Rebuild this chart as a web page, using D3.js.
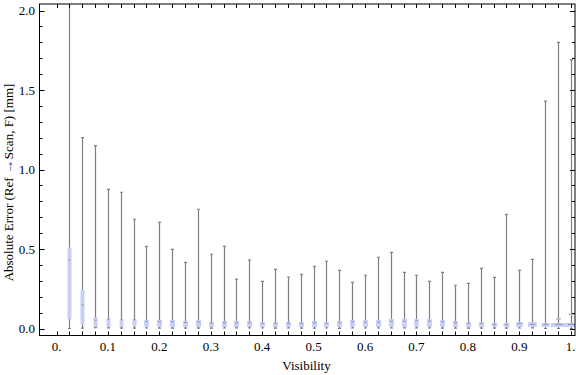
<!DOCTYPE html>
<html>
<head>
<meta charset="utf-8">
<script src="https://cdn.jsdelivr.net/npm/d3@7"></script>
<style>
body{margin:0;background:#fff;}
text{font-family:"Liberation Serif","Times New Roman",serif;font-size:13px;fill:#000;}
</style>
</head>
<body>
<script>
// visibility bins (box centres)
var visibility=[0.025,0.05,0.075,0.1,0.125,0.15,0.175,0.2,0.225,0.25,
  0.275,0.3,0.325,0.35,0.375,0.4,0.425,0.45,0.475,0.5,
  0.525,0.55,0.575,0.6,0.625,0.65,0.675,0.7,0.725,0.75,
  0.775,0.8,0.825,0.85,0.875,0.9,0.925,0.95,0.975,1.0];

// whisker ends
var whiskerHigh=[2.6,1.20,1.15,0.875,0.857,0.687,0.517,0.668,0.498,0.416,
  0.75,0.467,0.517,0.31,0.43,0.297,0.372,0.324,0.341,0.391,
  0.423,0.366,0.29,0.335,0.448,0.479,0.353,0.335,0.297,0.353,
  0.272,0.284,0.378,0.322,0.718,0.366,0.435,1.43,1.80,1.69];
var whiskerLow=[0.0,0.002,0.005,0.004,0.002,0.002,0.003,0.002,0.002,0.002,
  0.002,0.002,0.003,0.004,0.003,0.003,0.002,0.003,0.002,0.002,
  0.003,0.001,0.003,0.003,0.003,0.003,0.003,0.003,0.003,0.002,
  0.002,0.002,0.002,0.002,0.002,0.003,0.004,0.0,0.0,0.0];

// quartiles + median
var q3=[0.51,0.242,0.072,0.062,0.060,0.060,0.054,0.054,0.054,0.047,
  0.054,0.042,0.047,0.047,0.047,0.041,0.041,0.041,0.041,0.047,
  0.041,0.047,0.053,0.053,0.053,0.060,0.060,0.060,0.060,0.053,
  0.047,0.041,0.041,0.035,0.035,0.041,0.041,0.035,0.035,0.035];
var q1=[0.058,0.026,0.009,0.010,0.010,0.015,0.010,0.010,0.010,0.010,
  0.010,0.010,0.010,0.010,0.010,0.010,0.010,0.010,0.010,0.010,
  0.010,0.010,0.010,0.010,0.010,0.010,0.010,0.010,0.010,0.010,
  0.010,0.010,0.010,0.010,0.010,0.010,0.010,0.010,0.010,0.010];
var median=[0.43,0.148,0.052,0.058,0.055,0.055,0.045,0.042,0.042,0.038,
  0.042,0.034,0.036,0.036,0.036,0.032,0.032,0.032,0.032,0.036,
  0.032,0.036,0.042,0.040,0.040,0.046,0.046,0.048,0.046,0.042,
  0.036,0.032,0.032,0.026,0.026,0.030,0.026,0.026,0.026,0.026];
// relative sample size (drives box width)
var sampleSize=[40,40,40,40,40,42,47,50,50,50,
  50,50,50,50,50,50,50,50,50,50,
  50,50,50,50,50,50,50,45,48,48,
  50,52,52,55,60,70,87,83,150,140];
// isolated points just above the box
var outlierX=[0.975,1.0];
var outlierY=[0.06,0.09];

var yTicks=[0,0.5,1.0,1.5,2.0];
var xTicks=[0,0.1,0.2,0.3,0.4,0.5,0.6,0.7,0.8,0.9,1.0];

var W=576,H=375;
var fLeft=39.5,fRight=575,fTop=4,fBottom=335.5;

var svg=d3.select("body").append("svg").attr("width",W).attr("height",H);

var x=d3.scaleLinear().domain([0,1]).range([56.5,570.7]);
var y=d3.scaleLinear().domain([0,2]).range([328.5,10.5]);
var wScale=d3.scaleLinear().domain([0,150]).range([0,15]);

svg.append("clipPath").attr("id","clip").append("rect")
  .attr("x",fLeft).attr("y",fTop).attr("width",fRight-fLeft).attr("height",fBottom-fTop);

var data=visibility.map(function(v,i){
  return {v:v,hi:whiskerHigh[i],lo:whiskerLow[i],q1:q1[i],q3:q3[i],med:median[i],n:sampleSize[i]};
});

var g=svg.append("g").attr("clip-path","url(#clip)");

function cx(d){return Math.round(x(d.v))+0.5;}

// whiskers
g.selectAll("line.wh").data(data).enter().append("line")
  .attr("class","wh")
  .attr("x1",cx).attr("x2",cx)
  .attr("y1",function(d){return y(d.hi)})
  .attr("y2",function(d){return y(d.lo)})
  .attr("stroke","#7f7f7f").attr("stroke-width",1.2);

// caps
g.selectAll("line.capH").data(data).enter().append("line")
  .attr("x1",function(d){return cx(d)-1.5})
  .attr("x2",function(d){return cx(d)+1.5})
  .attr("y1",function(d){return y(d.hi)})
  .attr("y2",function(d){return y(d.hi)})
  .attr("stroke","#7f7f7f").attr("stroke-width",1.2);
g.selectAll("line.capL").data(data).enter().append("line")
  .attr("x1",function(d){return cx(d)-1.5})
  .attr("x2",function(d){return cx(d)+1.5})
  .attr("y1",function(d){return y(d.lo)})
  .attr("y2",function(d){return y(d.lo)})
  .attr("stroke","#7f7f7f").attr("stroke-width",1.2);

// boxes
g.selectAll("rect.box").data(data).enter().append("rect")
  .attr("x",function(d){return cx(d)-wScale(d.n)/2})
  .attr("width",function(d){return wScale(d.n)})
  .attr("y",function(d){return y(d.q3)})
  .attr("height",function(d){return y(d.q1)-y(d.q3)})
  .attr("fill","#c9cff5");

// medians
g.selectAll("line.med").data(data).enter().append("line")
  .attr("x1",function(d){return cx(d)-wScale(d.n)/4})
  .attr("x2",function(d){return cx(d)+wScale(d.n)/4})
  .attr("y1",function(d){return y(d.med)})
  .attr("y2",function(d){return y(d.med)})
  .attr("stroke","#8a8fb0").attr("stroke-width",1);

// outliers
g.selectAll("line.out").data(outlierX).enter().append("line")
  .attr("x1",function(d){return x(d)-2})
  .attr("x2",function(d){return x(d)+3})
  .attr("y1",function(d,i){return y(outlierY[i])})
  .attr("y2",function(d,i){return y(outlierY[i])})
  .attr("stroke","#b8b8b8").attr("stroke-width",1.5);

// frame
svg.append("rect").attr("x",fLeft).attr("y",fTop).attr("width",fRight-fLeft).attr("height",fBottom-fTop)
  .attr("fill","none").attr("stroke","#000").attr("stroke-width",1);

// x ticks on top and bottom (every bin)
var xt=[0].concat(visibility);
svg.selectAll("line.xb").data(xt).enter().append("line")
  .attr("x1",function(d){return Math.round(x(d))+0.5}).attr("x2",function(d){return Math.round(x(d))+0.5})
  .attr("y1",fBottom).attr("y2",fBottom-4).attr("stroke","#000");
svg.selectAll("line.xt").data(xt).enter().append("line")
  .attr("x1",function(d){return Math.round(x(d))+0.5}).attr("x2",function(d){return Math.round(x(d))+0.5})
  .attr("y1",fTop).attr("y2",fTop+4).attr("stroke","#000");

// y ticks on left and right
var yMinor=d3.range(0,21).map(function(k){return k/10;});
svg.selectAll("line.yl").data(yMinor).enter().append("line")
  .attr("x1",fLeft).attr("x2",function(d,i){return fLeft+(i%5===0?5:3)})
  .attr("y1",function(d){return Math.round(y(d))+0.5}).attr("y2",function(d){return Math.round(y(d))+0.5})
  .attr("stroke","#000");
svg.selectAll("line.yr").data(yMinor).enter().append("line")
  .attr("x1",fRight).attr("x2",function(d,i){return fRight-(i%5===0?5:3)})
  .attr("y1",function(d){return Math.round(y(d))+0.5}).attr("y2",function(d){return Math.round(y(d))+0.5})
  .attr("stroke","#000");

// tick labels
svg.selectAll("text.xl").data(xTicks).enter().append("text")
  .attr("x",function(d){return x(d)}).attr("y",350.5)
  .attr("text-anchor","middle")
  .text(function(d){return d===0?"0.":d===1?"1.":d3.format(".1f")(d)});
svg.selectAll("text.yl").data(yTicks).enter().append("text")
  .attr("x",35).attr("y",function(d){return y(d)+4.5})
  .attr("text-anchor","end")
  .text(function(d){return d3.format(".1f")(d)});

// axis titles
svg.append("text").attr("x",306.5).attr("y",370).attr("text-anchor","middle").text("Visibility");
var yt=svg.append("text").attr("transform","translate(13,182.5) rotate(-90)")
  .attr("text-anchor","middle");
yt.append("tspan").text("Absolute Error (Ref ");
yt.append("tspan").style("font-size","15px").style("fill","#3a5fb0").text("\u2192");
yt.append("tspan").text("Scan, F) [mm]");
</script>
</body>
</html>
